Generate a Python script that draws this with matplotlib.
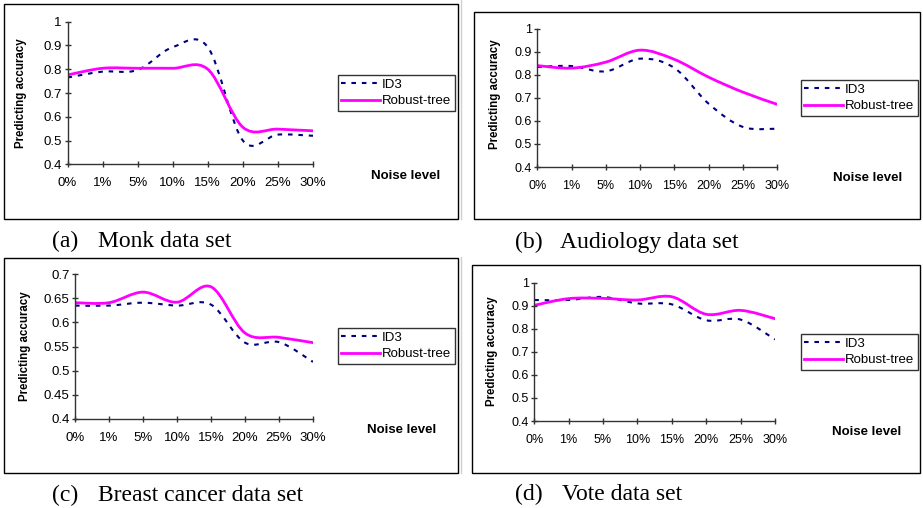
import matplotlib
matplotlib.use("Agg")
import matplotlib.pyplot as plt
from matplotlib.patches import PathPatch, Rectangle
from matplotlib.path import Path
from matplotlib.lines import Line2D

noise_labels = ["0%", "1%", "5%", "10%", "15%", "20%", "25%", "30%"]

monk_id3 = [0.765, 0.79, 0.797, 0.893, 0.893, 0.50, 0.525, 0.52]
monk_robust = [0.776, 0.804, 0.804, 0.804, 0.80, 0.556, 0.548, 0.541]

audiology_id3 = [0.834, 0.838, 0.815, 0.870, 0.830, 0.675, 0.574, 0.566]
audiology_robust = [0.840, 0.829, 0.855, 0.907, 0.867, 0.790, 0.725, 0.672]

breast_id3 = [0.635, 0.635, 0.641, 0.635, 0.637, 0.558, 0.559, 0.518]
breast_robust = [0.641, 0.641, 0.663, 0.642, 0.674, 0.578, 0.569, 0.558]

vote_id3 = [0.925, 0.925, 0.938, 0.910, 0.906, 0.837, 0.840, 0.754]
vote_robust = [0.902, 0.931, 0.932, 0.925, 0.939, 0.863, 0.880, 0.844]

W, H = 923, 508
ID3_COLOR = "#000080"
ROBUST_COLOR = "#ff00ff"
AXIS_COLOR = "#333333"
SANS = "Liberation Sans"
SERIF = "Liberation Serif"


def fx(x):
    return x / W


def fy(y):
    return 1 - y / H


def smooth_path(values):
    # excel-style smoothed line: cubic bezier through every point
    pts = [(i, v) for i, v in enumerate(values)]
    n = len(pts)
    verts = [pts[0]]
    codes = [Path.MOVETO]
    for i in range(n - 1):
        p_prev = pts[max(i - 1, 0)]
        p0 = pts[i]
        p1 = pts[i + 1]
        p_next = pts[min(i + 2, n - 1)]
        c1 = (p0[0] + (p1[0] - p_prev[0]) / 6, p0[1] + (p1[1] - p_prev[1]) / 6)
        c2 = (p1[0] - (p_next[0] - p0[0]) / 6, p1[1] - (p_next[1] - p0[1]) / 6)
        verts += [c1, c2, p1]
        codes += [Path.CURVE4] * 3
    return Path(verts, codes)


def draw_panel(fig, box, axes_px, id3, robust, yticks, tick_fs, legend_xy,
               noise_xy, ylabel_xy, caption_xy, letter, caption):
    bx0, by0, bx1, by1 = box
    fig.patches.append(Rectangle((fx(bx0), fy(by1)), fx(bx1 - bx0), (by1 - by0) / H,
                                 transform=fig.transFigure, fill=False,
                                 edgecolor="black", linewidth=1.0))

    x0, y0, x1, y1 = axes_px
    ax = fig.add_axes([fx(x0), fy(y1), fx(x1 - x0), (y1 - y0) / H])
    ax.patch.set_alpha(0)

    dashed = PathPatch(smooth_path(id3), fill=False, edgecolor=ID3_COLOR,
                       linewidth=1.5, linestyle=(0, (2.2, 2.8)))
    solid = PathPatch(smooth_path(robust), fill=False, edgecolor=ROBUST_COLOR,
                      linewidth=2.0, capstyle="round", joinstyle="round")
    ax.add_patch(dashed)
    ax.add_patch(solid)

    ax.set_xlim(0, len(noise_labels) - 1)
    ax.set_ylim(yticks[0], yticks[-1])
    ax.set_xticks(range(len(noise_labels)))
    ax.set_xticklabels(noise_labels, fontfamily=SANS, fontsize=tick_fs)
    ax.set_yticks(yticks)
    ax.set_yticklabels([f"{v:g}" for v in yticks], fontfamily=SANS, fontsize=tick_fs)
    for side in ("top", "right"):
        ax.spines[side].set_visible(False)
    for side in ("left", "bottom"):
        ax.spines[side].set_color(AXIS_COLOR)
        ax.spines[side].set_linewidth(1.0)
    ax.tick_params(axis="both", direction="inout", length=4, width=1.0, color=AXIS_COLOR)
    ax.tick_params(axis="x", pad=7.5)
    ax.tick_params(axis="y", pad=2)

    handles = [Line2D([], [], color=ID3_COLOR, linewidth=1.5, linestyle=(0, (2.2, 2.8))),
               Line2D([], [], color=ROBUST_COLOR, linewidth=2.0)]
    leg = ax.legend(handles, ["ID3", "Robust-tree"], loc="upper left",
                    bbox_to_anchor=(fx(legend_xy[0]), fy(legend_xy[1])),
                    bbox_transform=fig.transFigure, frameon=True, fancybox=False,
                    prop={"family": SANS, "size": 9.5}, handlelength=2.9,
                    handletextpad=0.2, borderpad=0.25, labelspacing=0.35,
                    borderaxespad=0)
    leg.get_frame().set_edgecolor("black")
    leg.get_frame().set_linewidth(1.0)

    fig.text(fx(noise_xy[0]), fy(noise_xy[1]), "Noise level", ha="center", va="center",
             fontfamily=SANS, fontsize=9.5, fontweight="bold")
    fig.text(fx(ylabel_xy[0]), fy(ylabel_xy[1]), "Predicting accuracy", ha="center",
             va="center", rotation=90, fontfamily=SANS, fontsize=8.3, fontweight="bold")

    cx, cy, cx2 = caption_xy
    fig.text(fx(cx), fy(cy), letter, ha="left", va="baseline",
             fontfamily=SERIF, fontsize=17)
    fig.text(fx(cx2), fy(cy), caption, ha="left", va="baseline",
             fontfamily=SERIF, fontsize=17)


fig = plt.figure(figsize=(W / 100, H / 100), dpi=100)
fig.patch.set_facecolor("white")

# faint rule between the left and right columns
fig.add_artist(Line2D([fx(461), fx(461)], [fy(0), fy(219)], transform=fig.transFigure,
                      color="#d0d0d0", linewidth=1.0))
fig.add_artist(Line2D([fx(461), fx(461)], [fy(257), fy(473)], transform=fig.transFigure,
                      color="#d0d0d0", linewidth=1.0))

acc_ticks = [0.4, 0.5, 0.6, 0.7, 0.8, 0.9, 1.0]
breast_ticks = [0.4, 0.45, 0.5, 0.55, 0.6, 0.65, 0.7]

draw_panel(fig, (4, 4, 458, 219), (67.5, 21.7, 313, 164.3), monk_id3, monk_robust,
           acc_ticks, 9.5, (338, 75), (406, 176), (21, 93), (52, 247, 98),
           "(a)", "Monk data set")
draw_panel(fig, (474, 12, 920, 219), (537.3, 28.7, 777, 167), audiology_id3,
           audiology_robust, acc_ticks, 9, (801, 80), (868, 178), (495, 94),
           (515, 248, 560), "(b)", "Audiology data set")
draw_panel(fig, (4, 258, 458, 473), (75, 274.3, 313, 418.7), breast_id3, breast_robust,
           breast_ticks, 9.5, (338, 328), (402, 430), (25, 346), (52, 501, 98),
           "(c)", "Breast cancer data set")
draw_panel(fig, (472, 265, 920, 473), (534.3, 282.7, 775, 421), vote_id3, vote_robust,
           acc_ticks, 9, (801, 334), (867, 432), (492, 351), (515, 500, 562),
           "(d)", "Vote data set")

fig.savefig("out.png", dpi=100)
